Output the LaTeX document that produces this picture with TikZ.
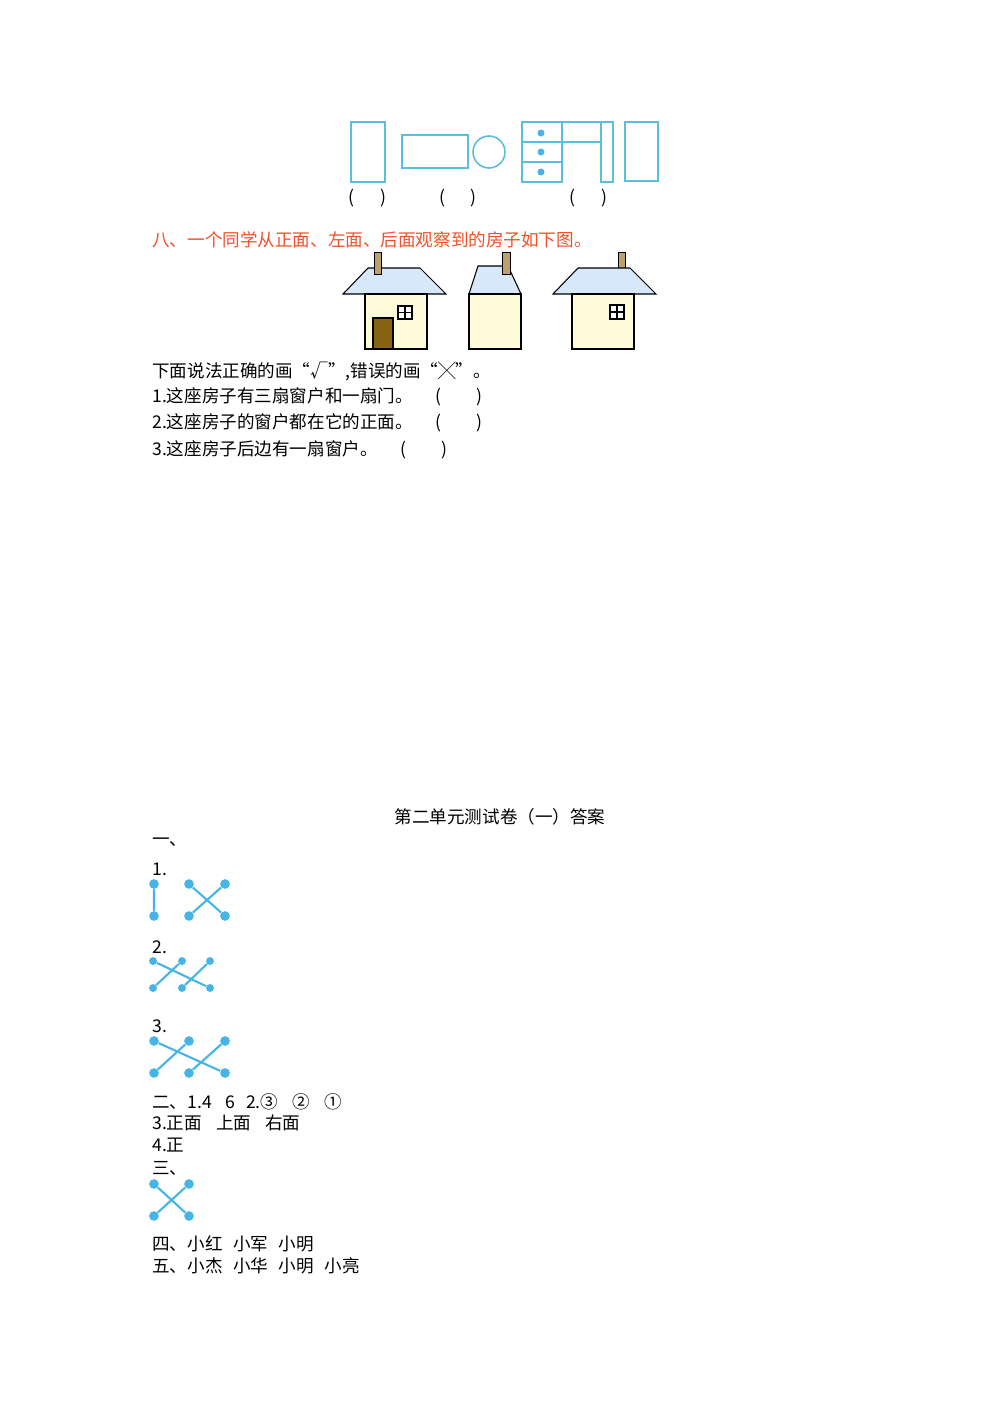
\documentclass[tikz,border=0pt]{standalone}
\usepackage{fontspec}
\setmainfont{Noto Sans CJK SC}
\usepackage{xcolor}
\definecolor{lineblue}{RGB}{90,190,225}
\definecolor{dotblue}{RGB}{70,180,230}
\definecolor{titlered}{RGB}{240,80,40}
\definecolor{roofblue}{RGB}{215,232,250}
\definecolor{wallyellow}{RGB}{255,250,215}
\definecolor{doorbrown}{RGB}{135,100,20}
\definecolor{brick}{RGB}{190,160,110}
\tikzset{
  txt/.style={anchor=west,inner sep=0pt,font=\fontsize{10}{12}\selectfont},
  dot/.style={circle,fill=dotblue,inner sep=0pt,minimum size=5.5pt},
  link/.style={dotblue,line width=1.2pt},
  outline/.style={lineblue,line width=0.9pt},
  house/.style={black,line width=0.6pt}
}
\begin{document}
\begin{tikzpicture}[x=0.02cm,y=-0.02cm]
  \useasboundingbox (0,0) rectangle (1000,1414);

  % shapes seen from different sides
  \draw[outline] (351,122) rectangle (385,182);
  \draw[outline] (402,135) rectangle (468,168);
  \draw[outline] (489,152) circle (16);
  \draw[outline] (522,122) rectangle (562,182);
  \draw[outline] (522,142) -- (562,142);
  \draw[outline] (522,162) -- (562,162);
  \draw[outline] (562,122) rectangle (601,142);
  \draw[outline] (601,122) rectangle (613,182);
  \draw[outline] (625,122) rectangle (658,181);
  \foreach \y in {133,152,172}
    \fill[dotblue] (541,\y) circle (3.5);
  \node[txt] at (348,198) {(};
  \node[txt] at (380,198) {)};
  \node[txt] at (439,198) {(};
  \node[txt] at (470,198) {)};
  \node[txt] at (569,198) {(};
  \node[txt] at (601,198) {)};

  % question eight
  \node[txt,titlered] (q8) at (152,240) {八、一个同学从正面、左面、后面观察到的房子如下图。};

  % front
  \draw[house,fill=roofblue] (343,294) -- (368,268) -- (420,268) -- (446,294) -- cycle;
  \fill[brick,draw=black,line width=0.4pt] (374,252) rectangle (381,274);
  \draw[house,fill=wallyellow] (365,294) rectangle (427,349);
  \draw[house,fill=doorbrown] (373,318) rectangle (393,349);
  \draw[house,fill=white] (398,306) rectangle (412,319);
  \draw[house] (405,306) -- (405,319) (398,312.5) -- (412,312.5);
  % left
  \draw[house,fill=roofblue] (469,294) -- (478,266) -- (508,266) -- (521,294) -- cycle;
  \fill[brick,draw=black,line width=0.4pt] (502,252) rectangle (510,274);
  \draw[house,fill=wallyellow] (469,294) rectangle (521,349);
  % back
  \fill[brick,draw=black,line width=0.4pt] (618,252) rectangle (625,268);
  \draw[house,fill=roofblue] (553,294) -- (578,268) -- (630,268) -- (656,294) -- cycle;
  \draw[house,fill=wallyellow] (572,294) rectangle (634,349);
  \draw[house,fill=white] (610,305) rectangle (624,319);
  \draw[house] (617,305) -- (617,319) (610,312) -- (624,312);

  \node[txt] (s0) at (152,371) {下面说法正确的画“√”,错误的画“╳”。};
  \node[txt] (s1) at (152,397) {1.这座房子有三扇窗户和一扇门。\hspace{1.3em}(\hspace{2em})};
  \node[txt] (s2) at (152,423) {2.这座房子的窗户都在它的正面。\hspace{1.3em}(\hspace{2em})};
  \node[txt] (s3) at (152,450) {3.这座房子后边有一扇窗户。\hspace{1.3em}(\hspace{2em})};

  % answers
  \node[inner sep=0pt,font=\fontsize{10}{12}\selectfont] (ans) at (500,817) {第二单元测试卷（一）答案};
  \node[txt] at (152,842) {一、};
  \node[txt] at (152,869) {1.};
  \node[dot] (a1) at (154,884) {};
  \node[dot] (a2) at (154,916) {};
  \node[dot] (a3) at (189,884) {};
  \node[dot] (a4) at (225,884) {};
  \node[dot] (a5) at (189,916) {};
  \node[dot] (a6) at (225,916) {};
  \draw[link] (a1) -- (a2) (a3) -- (a6) (a4) -- (a5);

  \node[txt] at (152,947) {2.};
  \node[dot,minimum size=4.5pt] (b1) at (153,961) {};
  \node[dot,minimum size=4.5pt] (b2) at (182,961) {};
  \node[dot,minimum size=4.5pt] (b3) at (210,961) {};
  \node[dot,minimum size=4.5pt] (b4) at (153,988) {};
  \node[dot,minimum size=4.5pt] (b5) at (182,988) {};
  \node[dot,minimum size=4.5pt] (b6) at (210,988) {};
  \draw[link] (b1) -- (b6) (b2) -- (b4) (b3) -- (b5);

  \node[txt] at (152,1026) {3.};
  \node[dot] (c1) at (154,1041) {};
  \node[dot] (c2) at (189,1041) {};
  \node[dot] (c3) at (225,1041) {};
  \node[dot] (c4) at (154,1073) {};
  \node[dot] (c5) at (189,1073) {};
  \node[dot] (c6) at (225,1073) {};
  \draw[link] (c1) -- (c6) (c2) -- (c4) (c3) -- (c5);

  \node[txt] at (152,1102) {二、1.4\hspace{0.8em}6\hspace{0.6em}2.③\hspace{0.8em}②\hspace{0.8em}①};
  \node[txt] at (152,1123) {3.正面\hspace{0.8em}上面\hspace{0.8em}右面};
  \node[txt] at (152,1145) {4.正};
  \node[txt] at (152,1168) {三、};
  \node[dot] (d1) at (154,1184) {};
  \node[dot] (d2) at (189,1184) {};
  \node[dot] (d3) at (154,1216) {};
  \node[dot] (d4) at (189,1216) {};
  \draw[link] (d1) -- (d4) (d2) -- (d3);
  \node[txt] at (152,1244) {四、小红\hspace{0.6em}小军\hspace{0.6em}小明};
  \node[txt] at (152,1266) {五、小杰\hspace{0.6em}小华\hspace{0.6em}小明\hspace{0.6em}小亮};
\end{tikzpicture}
\end{document}
